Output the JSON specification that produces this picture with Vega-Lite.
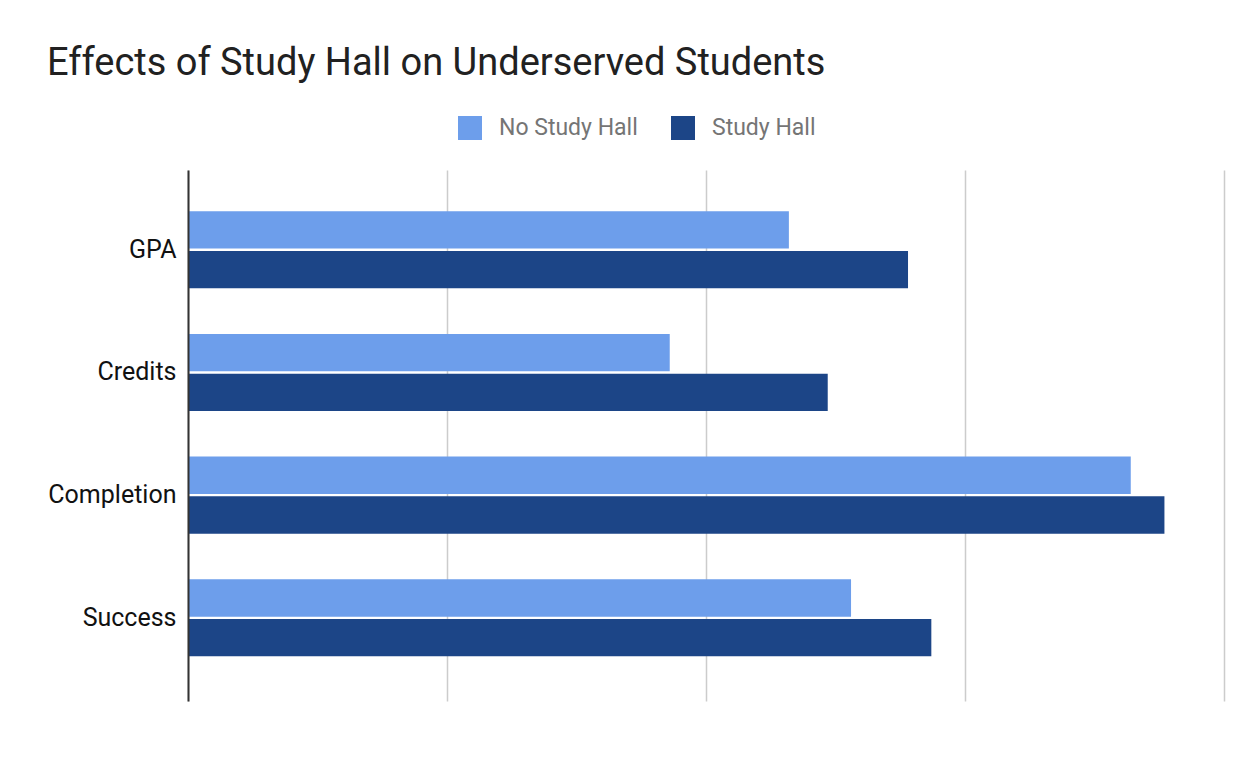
{
  "$schema": "https://vega.github.io/schema/vega-lite/v6.json",
  "autosize": "none",
  "width": 1036,
  "height": 531,
  "padding": {"left": 188, "top": 170, "right": 26, "bottom": 72},
  "background": "white",
  "title": {
    "text": "Effects of Study Hall on Underserved Students",
    "anchor": "start",
    "frame": "group",
    "dx": -141,
    "offset": 3,
    "baseline": "alphabetic",
    "font": "Roboto",
    "fontSize": 38,
    "fontWeight": "normal",
    "color": "#212121"
  },
  "data": {
    "values": [
      {"metric": "GPA", "group": "No Study Hall", "value": 2.32},
      {"metric": "GPA", "group": "Study Hall", "value": 2.78},
      {"metric": "Credits", "group": "No Study Hall", "value": 1.86},
      {"metric": "Credits", "group": "Study Hall", "value": 2.47},
      {"metric": "Completion", "group": "No Study Hall", "value": 3.64},
      {"metric": "Completion", "group": "Study Hall", "value": 3.77},
      {"metric": "Success", "group": "No Study Hall", "value": 2.56},
      {"metric": "Success", "group": "Study Hall", "value": 2.87}
    ]
  },
  "mark": {"type": "bar"},
  "encoding": {
    "y": {
      "field": "metric",
      "type": "nominal",
      "sort": ["GPA", "Credits", "Completion", "Success"],
      "scale": {"paddingInner": 0.372, "paddingOuter": 0.35, "align": 0.48},
      "axis": {
        "title": null,
        "ticks": false,
        "labelFont": "Roboto",
        "labelFontSize": 25,
        "labelColor": "#111111",
        "labelPadding": 12,
        "domainColor": "#333333",
        "domainWidth": 2,
        "grid": false,
        "zindex": 1
      }
    },
    "yOffset": {
      "field": "group",
      "type": "nominal",
      "scale": {"paddingInner": 0.06}
    },
    "x": {
      "field": "value",
      "type": "quantitative",
      "scale": {"domain": [0, 4], "nice": false},
      "axis": {
        "title": null,
        "labels": false,
        "ticks": false,
        "domain": false,
        "tickCount": 4,
        "gridColor": "#cccccc",
        "gridWidth": 1.5
      }
    },
    "color": {
      "field": "group",
      "type": "nominal",
      "scale": {"domain": ["No Study Hall", "Study Hall"], "range": ["#6d9eeb", "#1c4587"]},
      "legend": {
        "title": null,
        "orient": "none",
        "direction": "horizontal",
        "legendX": 270,
        "legendY": -54,
        "symbolType": "square",
        "symbolSize": 576,
        "symbolStrokeWidth": 0,
        "labelFont": "Roboto",
        "labelFontSize": 23,
        "labelColor": "#757575",
        "labelOffset": 17,
        "columnPadding": 33
      }
    }
  },
  "config": {"view": {"stroke": null}}
}
